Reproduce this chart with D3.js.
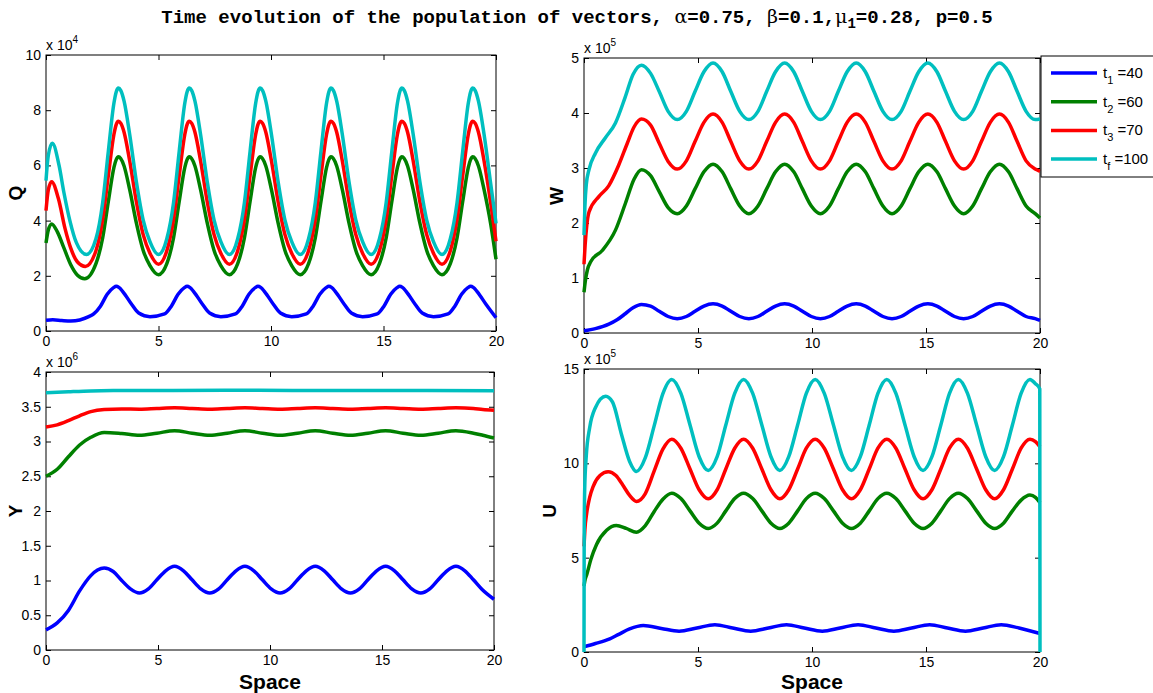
<!DOCTYPE html>
<html>
<head>
<meta charset="utf-8">
<script src="https://cdn.jsdelivr.net/npm/d3@7"></script>
<style>
body { margin: 0; background: #fff; }
text { font-family: "Liberation Sans", Arial, sans-serif; fill: #000; }
</style>
</head>
<body>
<div id="chart-area"></div>
<script>
// ---- data, [space, value in axis units] ----
const qBlue = [[0,0.39],[0.3,0.41],[0.7,0.38],[1.1,0.36],[1.5,0.40],[1.9,0.52],
  [2.12,0.62],[2.42,0.9],[2.72,1.33],[3.0,1.57],[3.12,1.62],[3.24,1.58],[3.42,1.42],[3.82,0.95],[4.12,0.65],[4.62,0.52],
  [5.27,0.62],[5.57,0.9],[5.87,1.33],[6.15,1.57],[6.27,1.62],[6.39,1.58],[6.57,1.42],[6.97,0.95],[7.27,0.65],[7.77,0.52],
  [8.42,0.62],[8.72,0.9],[9.02,1.33],[9.3,1.57],[9.42,1.62],[9.54,1.58],[9.72,1.42],[10.12,0.95],[10.42,0.65],[10.92,0.52],
  [11.57,0.62],[11.87,0.9],[12.17,1.33],[12.45,1.57],[12.57,1.62],[12.69,1.58],[12.87,1.42],[13.27,0.95],[13.57,0.65],[14.07,0.52],
  [14.72,0.62],[15.02,0.9],[15.32,1.33],[15.6,1.57],[15.72,1.62],[15.84,1.58],[16.02,1.42],[16.42,0.95],[16.72,0.65],[17.22,0.52],
  [17.87,0.62],[18.17,0.9],[18.47,1.33],[18.75,1.57],[18.87,1.62],[18.99,1.58],[19.17,1.42],[19.57,0.95],[20,0.48]]
const qGreen = [[0,3.19],[0.1,3.65],[0.25,3.88],[0.5,3.6],[0.8,3.0],[1.1,2.4],[1.4,2.02],[1.72,1.89],
  [2.22,2.44],[2.52,3.38],[2.77,4.69],[3.02,5.93],[3.12,6.21],[3.22,6.31],[3.32,6.25],[3.47,5.98],[3.72,5.12],[4.02,3.9],[4.32,2.92],[4.62,2.37],[5.0,2.04],
  [5.37,2.44],[5.67,3.38],[5.92,4.69],[6.17,5.93],[6.27,6.21],[6.37,6.31],[6.47,6.25],[6.62,5.98],[6.87,5.12],[7.17,3.9],[7.47,2.92],[7.77,2.37],[8.15,2.04],
  [8.52,2.44],[8.82,3.38],[9.07,4.69],[9.32,5.93],[9.42,6.21],[9.52,6.31],[9.62,6.25],[9.77,5.98],[10.02,5.12],[10.32,3.9],[10.62,2.92],[10.92,2.37],[11.3,2.04],
  [11.67,2.44],[11.97,3.38],[12.22,4.69],[12.47,5.93],[12.57,6.21],[12.67,6.31],[12.77,6.25],[12.92,5.98],[13.17,5.12],[13.47,3.9],[13.77,2.92],[14.07,2.37],[14.45,2.04],
  [14.82,2.44],[15.12,3.38],[15.37,4.69],[15.62,5.93],[15.72,6.21],[15.82,6.31],[15.92,6.25],[16.07,5.98],[16.32,5.12],[16.62,3.9],[16.92,2.92],[17.22,2.37],[17.6,2.04],
  [17.97,2.44],[18.27,3.38],[18.52,4.69],[18.77,5.93],[18.87,6.21],[18.97,6.31],[19.07,6.25],[19.22,5.98],[19.47,5.12],[19.77,3.85],[20,2.6]]
const qRed = [[0,4.36],[0.1,5.1],[0.25,5.41],[0.55,4.8],[0.85,3.7],[1.1,3.0],[1.4,2.5],[1.75,2.34],
  [2.22,2.91],[2.52,4.05],[2.77,5.63],[3.02,7.13],[3.12,7.48],[3.22,7.6],[3.32,7.53],[3.47,7.2],[3.72,6.16],[4.02,4.67],[4.32,3.49],[4.62,2.82],[5.0,2.42],
  [5.37,2.91],[5.67,4.05],[5.92,5.63],[6.17,7.13],[6.27,7.48],[6.37,7.6],[6.47,7.53],[6.62,7.2],[6.87,6.16],[7.17,4.67],[7.47,3.49],[7.77,2.82],[8.15,2.42],
  [8.52,2.91],[8.82,4.05],[9.07,5.63],[9.32,7.13],[9.42,7.48],[9.52,7.6],[9.62,7.53],[9.77,7.2],[10.02,6.16],[10.32,4.67],[10.62,3.49],[10.92,2.82],[11.3,2.42],
  [11.67,2.91],[11.97,4.05],[12.22,5.63],[12.47,7.13],[12.57,7.48],[12.67,7.6],[12.77,7.53],[12.92,7.2],[13.17,6.16],[13.47,4.67],[13.77,3.49],[14.07,2.82],[14.45,2.42],
  [14.82,2.91],[15.12,4.05],[15.37,5.63],[15.62,7.13],[15.72,7.48],[15.82,7.6],[15.92,7.53],[16.07,7.2],[16.32,6.16],[16.62,4.67],[16.92,3.49],[17.22,2.82],[17.6,2.42],
  [17.97,2.91],[18.27,4.05],[18.52,5.63],[18.77,7.13],[18.87,7.48],[18.97,7.6],[19.07,7.53],[19.22,7.2],[19.47,6.16],[19.77,4.6],[20,3.25]]
const qCyan = [[0,5.45],[0.1,6.35],[0.28,6.8],[0.58,6.0],[0.8,5.0],[1.06,4.0],[1.35,3.2],[1.8,2.77],
  [2.22,3.34],[2.52,4.66],[2.77,6.51],[3.02,8.26],[3.12,8.66],[3.22,8.8],[3.32,8.72],[3.47,8.33],[3.72,7.12],[4.02,5.39],[4.32,4.02],[4.62,3.24],[5.0,2.77],
  [5.37,3.34],[5.67,4.66],[5.92,6.51],[6.17,8.26],[6.27,8.66],[6.37,8.8],[6.47,8.72],[6.62,8.33],[6.87,7.12],[7.17,5.39],[7.47,4.02],[7.77,3.24],[8.15,2.77],
  [8.52,3.34],[8.82,4.66],[9.07,6.51],[9.32,8.26],[9.42,8.66],[9.52,8.8],[9.62,8.72],[9.77,8.33],[10.02,7.12],[10.32,5.39],[10.62,4.02],[10.92,3.24],[11.3,2.77],
  [11.67,3.34],[11.97,4.66],[12.22,6.51],[12.47,8.26],[12.57,8.66],[12.67,8.8],[12.77,8.72],[12.92,8.33],[13.17,7.12],[13.47,5.39],[13.77,4.02],[14.07,3.24],[14.45,2.77],
  [14.82,3.34],[15.12,4.66],[15.37,6.51],[15.62,8.26],[15.72,8.66],[15.82,8.8],[15.92,8.72],[16.07,8.33],[16.32,7.12],[16.62,5.39],[16.92,4.02],[17.22,3.24],[17.6,2.77],
  [17.97,3.34],[18.27,4.66],[18.52,6.51],[18.77,8.26],[18.87,8.66],[18.97,8.8],[19.07,8.72],[19.22,8.33],[19.47,7.12],[19.77,5.3],[20,3.9]]

const wBlue = [[0,0.04],[0.5,0.08],[1.09,0.16],[1.45,0.24],[1.81,0.35],[2.15,0.46],[2.52,0.52],
  [2.92,0.49],[3.3,0.395],[3.69,0.3],[4.09,0.26],[4.49,0.3],[4.87,0.395],[5.26,0.49],[5.66,0.53],
  [6.06,0.49],[6.44,0.395],[6.83,0.3],[7.23,0.26],[7.63,0.3],[8.01,0.395],[8.4,0.49],[8.8,0.53],
  [9.2,0.49],[9.58,0.395],[9.97,0.3],[10.37,0.26],[10.77,0.3],[11.15,0.395],[11.54,0.49],[11.94,0.53],
  [12.34,0.49],[12.72,0.395],[13.11,0.3],[13.51,0.26],[13.91,0.3],[14.29,0.395],[14.68,0.49],[15.08,0.53],
  [15.48,0.49],[15.86,0.395],[16.25,0.3],[16.65,0.26],[17.05,0.3],[17.43,0.395],[17.82,0.49],[18.22,0.53],
  [18.62,0.49],[19.0,0.395],[19.39,0.3],[19.79,0.26],[20,0.23]]
const wGreen = [[0,0.74],[0.06,0.95],[0.15,1.15],[0.3,1.3],[0.8,1.5],[1.38,1.87],[1.81,2.35],[2.2,2.8],[2.52,2.97],
  [2.92,2.86],[3.3,2.57],[3.69,2.28],[4.09,2.17],[4.49,2.31],[4.87,2.62],[5.26,2.93],[5.66,3.07],
  [6.06,2.93],[6.44,2.62],[6.83,2.31],[7.23,2.17],[7.63,2.31],[8.01,2.62],[8.4,2.93],[8.8,3.07],
  [9.2,2.93],[9.58,2.62],[9.97,2.31],[10.37,2.17],[10.77,2.31],[11.15,2.62],[11.54,2.93],[11.94,3.07],
  [12.34,2.93],[12.72,2.62],[13.11,2.31],[13.51,2.17],[13.91,2.31],[14.29,2.62],[14.68,2.93],[15.08,3.07],
  [15.48,2.93],[15.86,2.62],[16.25,2.31],[16.65,2.17],[17.05,2.31],[17.43,2.62],[17.82,2.93],[18.22,3.07],
  [18.62,2.93],[19.0,2.62],[19.39,2.31],[19.79,2.17],[20,2.09]]
const wRed = [[0,1.25],[0.05,1.6],[0.12,1.95],[0.22,2.2],[0.65,2.48],[1.09,2.68],[1.52,3.05],[1.9,3.45],[2.2,3.75],[2.52,3.89],
  [2.92,3.78],[3.3,3.45],[3.69,3.12],[4.09,2.98],[4.49,3.13],[4.87,3.48],[5.26,3.83],[5.66,3.98],
  [6.06,3.83],[6.44,3.48],[6.83,3.13],[7.23,2.98],[7.63,3.13],[8.01,3.48],[8.4,3.83],[8.8,3.98],
  [9.2,3.83],[9.58,3.48],[9.97,3.13],[10.37,2.98],[10.77,3.13],[11.15,3.48],[11.54,3.83],[11.94,3.98],
  [12.34,3.83],[12.72,3.48],[13.11,3.13],[13.51,2.98],[13.91,3.13],[14.29,3.48],[14.68,3.83],[15.08,3.98],
  [15.48,3.83],[15.86,3.48],[16.25,3.13],[16.65,2.98],[17.05,3.13],[17.43,3.48],[17.82,3.83],[18.22,3.98],
  [18.62,3.83],[19.0,3.48],[19.39,3.13],[19.79,2.98],[20,2.94]]
const wCyan = [[0,1.78],[0.04,2.3],[0.1,2.7],[0.22,2.97],[0.5,3.27],[0.94,3.55],[1.38,3.82],[1.8,4.28],[2.15,4.7],[2.52,4.87],
  [2.92,4.72],[3.3,4.39],[3.69,4.03],[4.09,3.88],[4.49,4.03],[4.87,4.39],[5.26,4.75],[5.66,4.91],
  [6.06,4.75],[6.44,4.39],[6.83,4.03],[7.23,3.88],[7.63,4.03],[8.01,4.39],[8.4,4.75],[8.8,4.91],
  [9.2,4.75],[9.58,4.39],[9.97,4.03],[10.37,3.88],[10.77,4.03],[11.15,4.39],[11.54,4.75],[11.94,4.91],
  [12.34,4.75],[12.72,4.39],[13.11,4.03],[13.51,3.88],[13.91,4.03],[14.29,4.39],[14.68,4.75],[15.08,4.91],
  [15.48,4.75],[15.86,4.39],[16.25,4.03],[16.65,3.88],[17.05,4.03],[17.43,4.39],[17.82,4.75],[18.22,4.91],
  [18.62,4.75],[19.0,4.39],[19.39,4.03],[19.79,3.88],[20,3.89]]

const yBlue = [[0,0.29],[0.5,0.39],[1.0,0.57],[1.5,0.85],[2.0,1.07],[2.3,1.15],[2.6,1.18],
  [3.0,1.13],[3.38,1.0],[3.77,0.88],[4.17,0.82],[4.57,0.88],[4.95,1.01],[5.34,1.14],[5.74,1.205],
  [6.14,1.14],[6.52,1.01],[6.91,0.88],[7.31,0.82],[7.71,0.88],[8.09,1.01],[8.48,1.14],[8.88,1.205],
  [9.28,1.14],[9.66,1.01],[10.05,0.88],[10.45,0.82],[10.85,0.88],[11.23,1.01],[11.62,1.14],[12.02,1.205],
  [12.42,1.14],[12.8,1.01],[13.19,0.88],[13.59,0.82],[13.99,0.88],[14.37,1.01],[14.76,1.14],[15.16,1.205],
  [15.56,1.14],[15.94,1.01],[16.33,0.88],[16.73,0.82],[17.13,0.88],[17.51,1.01],[17.9,1.14],[18.3,1.205],
  [18.7,1.14],[19.08,1.01],[19.47,0.87],[20,0.73]]
const yGreen = [[0,2.5],[0.5,2.6],[1.0,2.78],[1.5,2.95],[2.0,3.06],[2.6,3.13],[3.38,3.115],[4.17,3.09],
  [4.95,3.12],[5.74,3.155],[6.52,3.12],[7.31,3.09],[8.09,3.12],[8.88,3.155],[9.66,3.12],[10.45,3.09],
  [11.23,3.12],[12.02,3.155],[12.8,3.12],[13.59,3.09],[14.37,3.12],[15.16,3.155],[15.94,3.12],[16.73,3.09],
  [17.51,3.12],[18.3,3.155],[19.08,3.12],[19.5,3.09],[20,3.05]]
const yRed = [[0,3.21],[0.5,3.24],[1.0,3.3],[1.5,3.37],[2.0,3.43],[2.6,3.46],[3.38,3.468],[4.17,3.465],
  [4.95,3.475],[5.74,3.485],[6.52,3.475],[7.31,3.465],[8.09,3.475],[8.88,3.485],[9.66,3.475],[10.45,3.465],
  [11.23,3.475],[12.02,3.485],[12.8,3.475],[13.59,3.465],[14.37,3.475],[15.16,3.485],[15.94,3.475],[16.73,3.465],
  [17.51,3.475],[18.3,3.485],[19.08,3.475],[19.5,3.46],[20,3.45]]
const yCyan = [[0,3.7],[1,3.715],[2,3.728],[3,3.733],[5,3.735],[8,3.737],[11,3.735],[14,3.735],[17,3.735],[20,3.73]]

const uBlue = [[0,0.28],[0.5,0.45],[1.13,0.7],[1.5,0.92],[2.0,1.22],[2.6,1.4],[3.39,1.25],[4.17,1.1],
  [4.95,1.27],[5.74,1.45],[6.52,1.27],[7.31,1.1],[8.09,1.27],[8.88,1.45],[9.66,1.27],[10.45,1.1],
  [11.23,1.27],[12.02,1.45],[12.8,1.27],[13.59,1.1],[14.37,1.27],[15.16,1.45],[15.94,1.27],[16.73,1.1],
  [17.51,1.27],[18.3,1.45],[19.08,1.27],[20,0.98]]
const uGreen = [[0,3.5],[0.05,3.85],[0.12,4.1],[0.3,4.9],[0.55,5.7],[0.99,6.45],[1.42,6.7],[1.85,6.55],[2.3,6.35],
  [2.69,6.7],[3.08,7.45],[3.46,8.1],[3.85,8.42],[4.25,8.13],[4.65,7.48],[5.05,6.83],[5.45,6.55],
  [5.84,6.83],[6.22,7.48],[6.61,8.13],[7.0,8.42],[7.4,8.13],[7.8,7.48],[8.2,6.83],[8.59,6.55],
  [8.98,6.83],[9.37,7.48],[9.75,8.13],[10.14,8.42],[10.54,8.13],[10.94,7.48],[11.34,6.83],[11.73,6.55],
  [12.12,6.83],[12.51,7.48],[12.89,8.13],[13.28,8.42],[13.68,8.13],[14.08,7.48],[14.48,6.83],[14.87,6.55],
  [15.26,6.83],[15.65,7.48],[16.03,8.13],[16.42,8.42],[16.82,8.13],[17.22,7.48],[17.62,6.83],[18.01,6.55],
  [18.4,6.83],[18.79,7.48],[19.17,8.05],[19.56,8.32],[19.8,8.2],[20,7.91]]
const uRed = [[0,5.6],[0.04,6.5],[0.12,7.37],[0.25,8.2],[0.4,8.77],[0.7,9.35],[1.06,9.56],[1.4,9.35],[1.7,8.85],[2.0,8.3],[2.3,7.98],
  [2.69,8.4],[3.08,9.6],[3.46,10.75],[3.85,11.28],[4.25,10.8],[4.65,9.7],[5.05,8.6],[5.45,8.12],
  [5.84,8.6],[6.22,9.7],[6.61,10.8],[7.0,11.28],[7.4,10.8],[7.8,9.7],[8.2,8.6],[8.59,8.12],
  [8.98,8.6],[9.37,9.7],[9.75,10.8],[10.14,11.28],[10.54,10.8],[10.94,9.7],[11.34,8.6],[11.73,8.12],
  [12.12,8.6],[12.51,9.7],[12.89,10.8],[13.28,11.28],[13.68,10.8],[14.08,9.7],[14.48,8.6],[14.87,8.12],
  [15.26,8.6],[15.65,9.7],[16.03,10.8],[16.42,11.28],[16.82,10.8],[17.22,9.7],[17.62,8.6],[18.01,8.12],
  [18.4,8.6],[18.79,9.7],[19.17,10.8],[19.56,11.28],[19.8,11.15],[20,10.87]]
const uCyan = [[0,0],[0.008,6.0],[0.03,8.6],[0.1,10.4],[0.25,11.9],[0.5,12.95],[0.95,13.55],[1.25,13.25],[1.63,11.6],[2.0,10.1],[2.3,9.57],
  [2.69,10.3],[3.08,12.0],[3.46,13.7],[3.85,14.45],[4.25,13.71],[4.65,12.03],[5.05,10.35],[5.45,9.62],
  [5.84,10.35],[6.22,12.03],[6.61,13.71],[7.0,14.45],[7.4,13.71],[7.8,12.03],[8.2,10.35],[8.59,9.62],
  [8.98,10.35],[9.37,12.03],[9.75,13.71],[10.14,14.45],[10.54,13.71],[10.94,12.03],[11.34,10.35],[11.73,9.62],
  [12.12,10.35],[12.51,12.03],[12.89,13.71],[13.28,14.45],[13.68,13.71],[14.08,12.03],[14.48,10.35],[14.87,9.62],
  [15.26,10.35],[15.65,12.03],[16.03,13.71],[16.42,14.45],[16.82,13.71],[17.22,12.03],[17.62,10.35],[18.01,9.62],
  [18.4,10.35],[18.79,12.03],[19.17,13.71],[19.56,14.45],[19.8,14.22],[19.99,13.95],[20,0]]

const legendNames = [["t", "1", " =40"], ["t", "2", " =60"], ["t", "3", " =70"], ["t", "f", " =100"]]
const xTicks = [0, 5, 10, 15, 20]

// ---- layout ----
const WIDTH = 1153, HEIGHT = 693
const COLORS = ["#0000ff", "#008000", "#ff0000", "#00bfbf"]
const TICK = 5

const panels = [
  { label: "Q", series: [qBlue, qGreen, qRed, qCyan], ymax: 10, yTicks: [0,2,4,6,8,10], exp: "4",
    left: 46, right: 496, top: 55, bottom: 331, labelPos: [22, 193], xlabel: false },
  { label: "W", series: [wBlue, wGreen, wRed, wCyan], ymax: 5, yTicks: [0,1,2,3,4,5], exp: "5",
    left: 584, right: 1040, top: 58, bottom: 333, labelPos: [563, 196], xlabel: false },
  { label: "Y", series: [yBlue, yGreen, yRed, yCyan], ymax: 4, yTicks: [0,0.5,1,1.5,2,2.5,3,3.5,4], exp: "6",
    left: 46, right: 494, top: 372, bottom: 650, labelPos: [22, 511], xlabel: true },
  { label: "U", series: [uBlue, uGreen, uRed, uCyan], ymax: 15, yTicks: [0,5,10,15], exp: "5",
    left: 584, right: 1040, top: 369, bottom: 652, labelPos: [556, 511], xlabel: true }
]

const svg = d3.select("#chart-area").append("svg")
  .attr("width", WIDTH)
  .attr("height", HEIGHT)

panels.forEach(p => {
  const x = d3.scaleLinear().domain([0, 20]).range([p.left, p.right])
  const y = d3.scaleLinear().domain([0, p.ymax]).range([p.bottom, p.top])
  const g = svg.append("g")

  // inside ticks on all four sides, labels only bottom/left
  g.append("g").attr("transform", `translate(0,${p.bottom})`)
    .call(d3.axisBottom(x).tickValues(xTicks).tickSize(-TICK).tickPadding(5).tickFormat(d3.format("d")))
  g.append("g").attr("transform", `translate(0,${p.top})`)
    .call(d3.axisTop(x).tickValues(xTicks).tickSize(-TICK).tickFormat(""))
  g.append("g").attr("transform", `translate(${p.left},0)`)
    .call(d3.axisLeft(y).tickValues(p.yTicks).tickSize(-TICK).tickPadding(5).tickFormat(d => String(d)))
  g.append("g").attr("transform", `translate(${p.right},0)`)
    .call(d3.axisRight(y).tickValues(p.yTicks).tickSize(-TICK).tickFormat(""))
  g.selectAll(".domain").remove()
  g.selectAll(".tick line").attr("stroke", "#000")
  g.selectAll(".tick text").attr("font-size", 14).attr("font-family", "Liberation Sans, Arial, sans-serif")

  g.append("rect")
    .attr("x", p.left).attr("y", p.top)
    .attr("width", p.right - p.left).attr("height", p.bottom - p.top)
    .attr("fill", "none").attr("stroke", "#000").attr("stroke-width", 1)

  const line = d3.line()
    .x(d => x(d[0]))
    .y(d => y(d[1]))
    .curve(d3.curveMonotoneX)

  g.selectAll(".curve")
    .data(p.series)
    .enter()
    .append("path")
    .attr("class", "curve")
    .attr("d", d => line(d))
    .attr("fill", "none")
    .attr("stroke", (d, i) => COLORS[i])
    .attr("stroke-width", 3.5)
    .attr("stroke-linejoin", "round")

  // exponent label
  const ex = g.append("text")
    .attr("x", p.left).attr("y", p.top - 5)
    .attr("font-size", 14)
  ex.append("tspan").text("x 10")
  ex.append("tspan").attr("dy", -7).attr("font-size", 10).text(p.exp)

  // y label
  g.append("text")
    .attr("transform", `translate(${p.labelPos[0]}, ${p.labelPos[1]}) rotate(-90)`)
    .attr("text-anchor", "middle")
    .attr("font-size", 19)
    .attr("font-weight", "bold")
    .text(p.label)

  if (p.xlabel) {
    g.append("text")
      .attr("x", (p.left + p.right) / 2).attr("y", 689)
      .attr("text-anchor", "middle")
      .attr("font-size", 21)
      .attr("font-weight", "bold")
      .text("Space")
  }
})

// ---- title ----
const title = svg.append("text")
  .attr("x", 577).attr("y", 23)
  .attr("text-anchor", "middle")
  .attr("font-size", 19)
  .attr("font-weight", "bold")
  .style("font-family", "Liberation Mono, Courier New, monospace")
title.append("tspan").text("Time evolution of the population of vectors, ")
title.append("tspan").style("font-family", "DejaVu Serif, serif").attr("font-weight", "normal").text("α")
title.append("tspan").text("=0.75, ")
title.append("tspan").style("font-family", "DejaVu Serif, serif").attr("font-weight", "normal").text("β")
title.append("tspan").text("=0.1,")
title.append("tspan").style("font-family", "DejaVu Serif, serif").attr("font-weight", "normal").text("μ")
title.append("tspan").attr("dy", 5).attr("font-size", 14).text("1")
title.append("tspan").attr("dy", -5).text("=0.28, p=0.5")

// ---- legend ----
const legend = svg.append("g")
legend.append("rect")
  .attr("x", 1041).attr("y", 56)
  .attr("width", 130).attr("height", 121)
  .attr("fill", "#fff").attr("stroke", "#000").attr("stroke-width", 1)

legendNames.forEach((n, i) => {
  const ly = 73 + i * 28.7
  legend.append("line")
    .attr("x1", 1051).attr("x2", 1097)
    .attr("y1", ly).attr("y2", ly)
    .attr("stroke", COLORS[i]).attr("stroke-width", 3.5)
  const t = legend.append("text")
    .attr("x", 1103).attr("y", ly + 5)
    .attr("font-size", 15)
  t.append("tspan").text(n[0])
  t.append("tspan").attr("dy", 6).attr("font-size", 11).text(n[1])
  t.append("tspan").attr("dy", -6).text(n[2])
})
</script>
</body>
</html>
